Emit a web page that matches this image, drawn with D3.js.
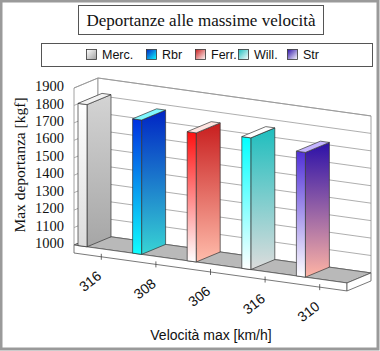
<!DOCTYPE html>
<html>
<head>
<meta charset="utf-8">
<script src="https://cdn.jsdelivr.net/npm/d3@7"></script>
<style>
  body { margin: 0; background: #fff; }
  .serif { font-family: "Liberation Serif", "Times New Roman", serif; }
  .sans { font-family: "Liberation Sans", Arial, sans-serif; }
</style>
</head>
<body>
<div id="chart"></div>
<script>
// data
var teams = ["Merc.", "Rbr", "Ferr.", "Will.", "Str"];
var speeds = ["316", "308", "306", "316", "310"];
var downforce = [1815, 1770, 1740, 1755, 1715];
var yTicks = [1000, 1100, 1200, 1300, 1400, 1500, 1600, 1700, 1800, 1900];

// colours per team: [front top, front bottom, side top, side bottom, top]
var faceColors = [
  ["#ffffff", "#dcdcdc", "#d4d4d4", "#a6a6a6", "#f2f2f2"],
  ["#0030e0", "#10ffff", "#0024c4", "#38d4d4", "#7ff8ff"],
  ["#ff1010", "#ffffff", "#c81e1e", "#ffbcab", "#ffe4e0"],
  ["#00ffff", "#ffffff", "#1ebebe", "#dcdcdc", "#ffffff"],
  ["#5030d8", "#ffffff", "#2c10a8", "#ffb4a4", "#c4b4ff"]
];

var width = 380, height = 351;

var svg = d3.select("#chart").append("svg")
    .attr("width", width)
    .attr("height", height);

var defs = svg.append("defs");

// oblique projection: X along category axis (px), Y height (px), Z depth (0..1)
var origin = {x: 74, y: 245};
var axisLen = 273, slope = 0.139, depthX = 24, depthY = -10, slab = 8;

function proj(X, Y, Z) {
  return [origin.x + X + Z * depthX, origin.y + X * slope + Z * depthY - Y];
}
function poly(pts) {
  return pts.map(function(p) { return proj(p[0], p[1], p[2]).join(","); }).join(" ");
}

var x = d3.scaleBand()
    .domain(d3.range(teams.length))
    .range([0, axisLen]);

var y = d3.scaleLinear()
    .domain([1000, 1900])
    .range([0, 157]);

var H = y(1900);

// outer frame
svg.append("rect")
    .attr("x", 1).attr("y", 1)
    .attr("width", width - 3).attr("height", height - 3)
    .attr("fill", "#fff")
    .attr("stroke", "#9a9a9a")
    .attr("stroke-width", 3);

// walls
svg.append("polygon")
    .attr("points", poly([[0, 0, 0], [0, H, 0], [0, H, 1], [0, 0, 1]]))
    .attr("fill", "#fff").attr("stroke", "#8a8a8a").attr("stroke-width", 0.8);
svg.append("polygon")
    .attr("points", poly([[0, 0, 1], [axisLen, 0, 1], [axisLen, H, 1], [0, H, 1]]))
    .attr("fill", "#fff").attr("stroke", "#8a8a8a").attr("stroke-width", 0.8);

// gridlines
var grid = svg.append("g").attr("class", "grid");
yTicks.forEach(function(v) {
  var a = proj(0, y(v), 0), b = proj(0, y(v), 1), c = proj(axisLen, y(v), 1);
  grid.append("polyline")
      .attr("points", [a, b, c].map(function(p) { return p.join(","); }).join(" "))
      .attr("fill", "none")
      .attr("stroke", "#999")
      .attr("stroke-width", 0.8);
});

// floor and slab
svg.append("polygon")
    .attr("points", poly([[0, 0, 0], [axisLen, 0, 0], [axisLen, 0, 1], [0, 0, 1]]))
    .attr("fill", "#b9b9b9").attr("stroke", "#555").attr("stroke-width", 0.8);
svg.append("polygon")
    .attr("points", poly([[0, 0, 0], [axisLen, 0, 0], [axisLen, -slab, 0], [0, -slab, 0]]))
    .attr("fill", "#fff").attr("stroke", "#555").attr("stroke-width", 0.8);
svg.append("polygon")
    .attr("points", poly([[axisLen, 0, 0], [axisLen, 0, 1], [axisLen, -slab, 1], [axisLen, -slab, 0]]))
    .attr("fill", "#fff").attr("stroke", "#555").attr("stroke-width", 0.8);

// gradients
faceColors.forEach(function(c, i) {
  var gf = defs.append("linearGradient").attr("id", "front" + i)
      .attr("x1", 0).attr("y1", 0).attr("x2", 0).attr("y2", 1);
  gf.append("stop").attr("offset", "0%").attr("stop-color", c[0]);
  gf.append("stop").attr("offset", "100%").attr("stop-color", c[1]);
  var gs = defs.append("linearGradient").attr("id", "side" + i)
      .attr("x1", 0).attr("y1", 0).attr("x2", 0).attr("y2", 1);
  gs.append("stop").attr("offset", "0%").attr("stop-color", c[2]);
  gs.append("stop").attr("offset", "100%").attr("stop-color", c[3]);
  var gl = defs.append("linearGradient").attr("id", "leg" + i)
      .attr("x1", 0).attr("y1", 0).attr("x2", 1).attr("y2", 1);
  gl.append("stop").attr("offset", "0%").attr("stop-color", i == 0 ? "#fff" : c[2]);
  gl.append("stop").attr("offset", "100%").attr("stop-color", i == 0 ? "#a0a0a0" : c[1]);
});

// bars
var barOff = 4, barW = 9;
var bars = svg.selectAll(".bar")
    .data(downforce)
    .enter().append("g")
    .attr("class", "bar");

bars.append("polygon")
    .attr("points", function(d, i) {
      var x0 = x(i) + barOff, x1 = x0 + barW, h = y(d);
      return poly([[x1, 0, 0], [x1, 0, 1], [x1, h, 1], [x1, h, 0]]);
    })
    .attr("fill", function(d, i) { return "url(#side" + i + ")"; })
    .attr("stroke", "#333").attr("stroke-width", 0.7);
bars.append("polygon")
    .attr("points", function(d, i) {
      var x0 = x(i) + barOff, x1 = x0 + barW, h = y(d);
      return poly([[x0, 0, 0], [x1, 0, 0], [x1, h, 0], [x0, h, 0]]);
    })
    .attr("fill", function(d, i) { return "url(#front" + i + ")"; })
    .attr("stroke", "#333").attr("stroke-width", 0.7);
bars.append("polygon")
    .attr("points", function(d, i) {
      var x0 = x(i) + barOff, x1 = x0 + barW, h = y(d);
      return poly([[x0, h, 0], [x1, h, 0], [x1, h, 1], [x0, h, 1]]);
    })
    .attr("fill", function(d, i) { return faceColors[i][4]; })
    .attr("stroke", "#333").attr("stroke-width", 0.7);

// x ticks + labels
speeds.forEach(function(s, i) {
  var p = proj(x(i) + x.bandwidth() / 2, -slab, 0);
  svg.append("line")
      .attr("x1", p[0]).attr("x2", p[0])
      .attr("y1", p[1] - 3).attr("y2", p[1] + 3)
      .attr("stroke", "#444").attr("stroke-width", 0.8);
  svg.append("text")
      .attr("class", "sans")
      .attr("transform", "translate(" + (p[0] + 1) + "," + (p[1] + 21) + ") rotate(-38)")
      .attr("text-anchor", "end")
      .attr("font-size", "14px")
      .attr("fill", "#111")
      .text(s);
});

// y labels
yTicks.forEach(function(v) {
  svg.append("text")
      .attr("class", "serif")
      .attr("x", 64)
      .attr("y", origin.y - y(v) - 2)
      .attr("dy", "0.35em")
      .attr("text-anchor", "end")
      .attr("font-size", "14.5px")
      .attr("fill", "#111")
      .text(v);
});

// axis titles
svg.append("text")
    .attr("class", "serif")
    .attr("transform", "translate(25,165) rotate(-90)")
    .attr("text-anchor", "middle")
    .attr("font-size", "15.5px")
    .attr("fill", "#111")
    .text("Max deportanza  [kgf]");

svg.append("text")
    .attr("class", "sans")
    .attr("x", 211).attr("y", 340)
    .attr("text-anchor", "middle")
    .attr("font-size", "14px")
    .attr("fill", "#111")
    .text("Velocità max [km/h]");

// title box
svg.append("rect")
    .attr("x", 78.5).attr("y", 5.5).attr("width", 245).attr("height", 29)
    .attr("fill", "#fff").attr("stroke", "#555");
svg.append("text")
    .attr("class", "serif")
    .attr("x", 201).attr("y", 26)
    .attr("text-anchor", "middle")
    .attr("font-size", "17px")
    .attr("fill", "#111")
    .text("Deportanze alle massime velocità");

// legend
svg.append("rect")
    .attr("x", 41.5).attr("y", 43.5).attr("width", 331).attr("height", 23)
    .attr("fill", "#fff").attr("stroke", "#555");
var legX = [86, 146, 195, 238, 287];
var leg = svg.selectAll(".leg")
    .data(teams)
    .enter().append("g")
    .attr("class", "leg")
    .attr("transform", function(d, i) { return "translate(" + legX[i] + ",49)"; });
leg.append("rect")
    .attr("x", 0.5).attr("y", 0.5).attr("width", 10).attr("height", 10)
    .attr("fill", function(d, i) { return "url(#leg" + i + ")"; })
    .attr("stroke", "#333").attr("stroke-width", 0.8);
leg.append("text")
    .attr("class", "sans")
    .attr("x", 16).attr("y", 10)
    .attr("font-size", "12.5px")
    .attr("fill", "#111")
    .text(function(d) { return d; });
</script>
</body>
</html>
